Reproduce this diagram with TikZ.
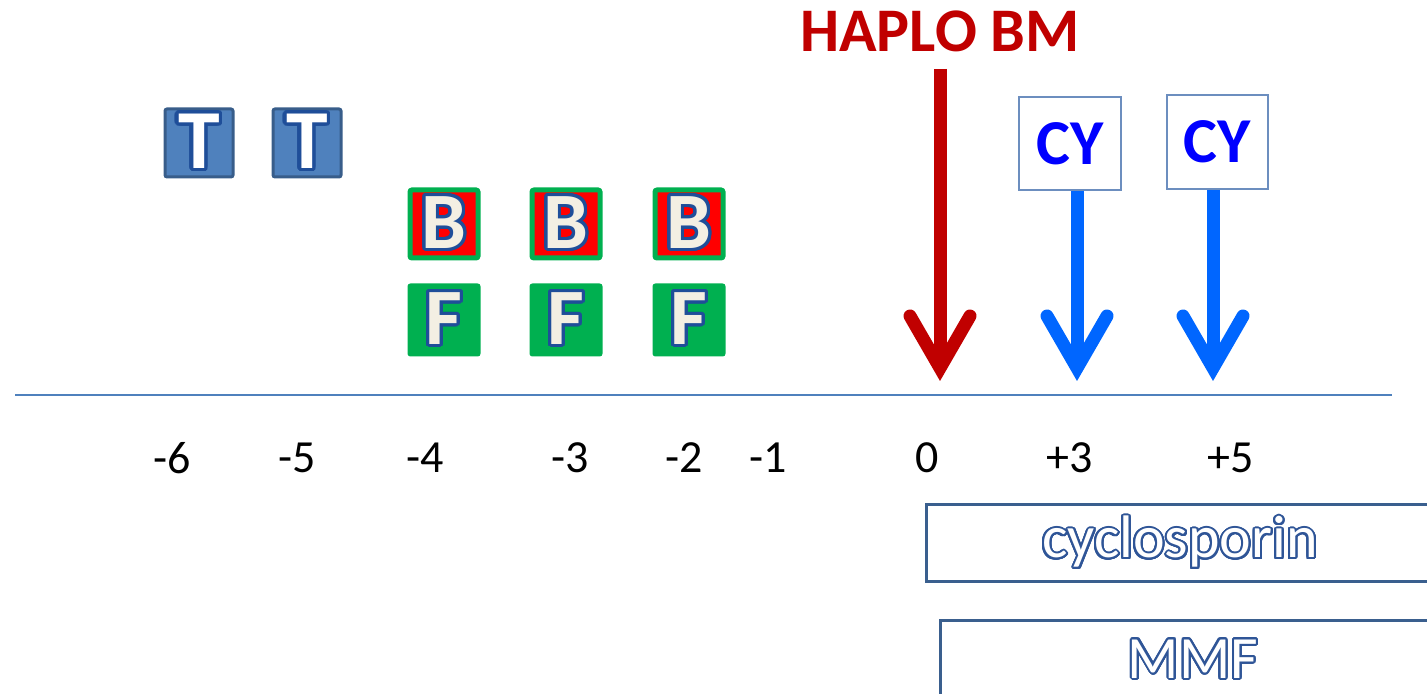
\documentclass[tikz,border=0pt]{standalone}
\usepackage{fontspec}
\setmainfont{Carlito}
\usepackage{contour}
\contournumber{32}
\usetikzlibrary{arrows.meta}
\definecolor{axisblue}{HTML}{4F81BD}
\definecolor{tfill}{HTML}{4F81BD}
\definecolor{tborder}{HTML}{385D8A}
\definecolor{letterline}{HTML}{1F4E99}
\definecolor{cream}{HTML}{F3EFE3}
\definecolor{bgreen}{HTML}{00B050}
\definecolor{bred}{HTML}{FF0000}
\definecolor{haplored}{HTML}{C00000}
\definecolor{arrowblue}{HTML}{0066FF}
\definecolor{cyblue}{HTML}{0000FF}
\definecolor{cyborder}{HTML}{6C8EBF}
\definecolor{barborder}{HTML}{3A5F8E}
\definecolor{barline}{HTML}{2F5597}
\tikzset{
  tbox/.style={draw=tborder, fill=tfill, line width=1.5pt, rounded corners=1pt,
    minimum size=34pt, inner sep=0pt, text=white,
    font=\fontsize{42}{42}\selectfont\bfseries},
  bbox/.style={draw=bgreen, fill=bred, line width=2.5pt, rounded corners=1pt,
    minimum size=34pt, inner sep=0pt, text=cream,
    font=\fontsize{40}{40}\selectfont\bfseries},
  fbox/.style={draw=bgreen, fill=bgreen, line width=1pt, rounded corners=1pt,
    minimum size=35.5pt, inner sep=0pt, text=cream,
    font=\fontsize{40}{40}\selectfont\bfseries},
  cybox/.style={draw=cyborder, fill=white, line width=1pt, inner sep=0pt,
    text=cyblue, font=\fontsize{32}{32}\selectfont\bfseries},
  daylabel/.style={font=\fontsize{23}{23}\selectfont, inner sep=0pt},
  barbox/.style={draw=barborder, line width=1.5pt, inner sep=0pt, text=white,
    font=\fontsize{30}{30}\selectfont},
  bigarrow/.style={line width=6.5pt,
    -{Straight Barb[length=26pt, width=30pt, line cap=round, line join=miter]}},
}
\newcommand{\outl}[2]{\contourlength{#1}\contour{letterline}{#2}}
\begin{document}
\begin{tikzpicture}[x=0.5pt,y=-0.5pt]
\useasboundingbox (0,0) rectangle (1427,694);
\clip (0,0) rectangle (1427,694);

% axis
\coordinate (axL) at (15,395);
\coordinate (axR) at (1392,395);
\draw[axisblue, line width=0.9pt] (axL) -- (axR);

% day labels
\node[daylabel] (dm6) at (172,458) {-6};
\node[daylabel] (dm5) at (297,458) {-5};
\node[daylabel] (dm4) at (425,458) {-4};
\node[daylabel] (dm3) at (570,458) {-3};
\node[daylabel] (dm2) at (684,458) {-2};
\node[daylabel] (dm1) at (768,458) {-1};
\node[daylabel] (d0) at (927,458) {0};
\node[daylabel] (dp3) at (1070,458) {+3};
\node[daylabel] (dp5) at (1231,458) {+5};

% T boxes
\node[tbox] (t1) at (199,143) {\outl{1.7pt}{T}};
\node[tbox] (t2) at (307,143) {\outl{1.7pt}{T}};

% B boxes
\node[bbox] (b1) at (444,224) {\outl{1.6pt}{B}};
\node[bbox] (b2) at (566,224) {\outl{1.6pt}{B}};
\node[bbox] (b3) at (689,224) {\outl{1.6pt}{B}};

% F boxes
\node[fbox] (f1) at (444,320) {\outl{1.6pt}{F}};
\node[fbox] (f2) at (566,320) {\outl{1.6pt}{F}};
\node[fbox] (f3) at (689,320) {\outl{1.6pt}{F}};

% HAPLO BM
\node[anchor=base, text=haplored, font=\fontsize{31}{31}\selectfont\bfseries,
  inner xsep=0pt, inner ysep=8pt] (haplo) at (940,52) {HAPLO BM};
\coordinate (tip0) at (940,381);
\draw[bigarrow, haplored] (haplo.south) -- (tip0);

% CY boxes
\node[cybox, minimum width=51pt, minimum height=46.5pt] (cy1) at (1070,143.5) {CY};
\node[cybox, minimum width=50.5pt, minimum height=47pt] (cy2) at (1217.5,142) {CY};
\coordinate (tip3) at (1077,381);
\coordinate (tip5) at (1213,381);
\draw[bigarrow, arrowblue] (cy1.south -| tip3) -- (tip3);
\draw[bigarrow, arrowblue] (cy2.south -| tip5) -- (tip5);

% drug bars
\node[barbox, minimum width=254pt, minimum height=38.5pt] (cyc) at (1180,543)
  {\contourlength{1pt}\contour{barline}{cyclosporin}};
\node[barbox, minimum width=253pt, minimum height=40pt] (mmf) at (1193,660)
  {\contourlength{1pt}\contour{barline}{MMF}};
\end{tikzpicture}
\end{document}
